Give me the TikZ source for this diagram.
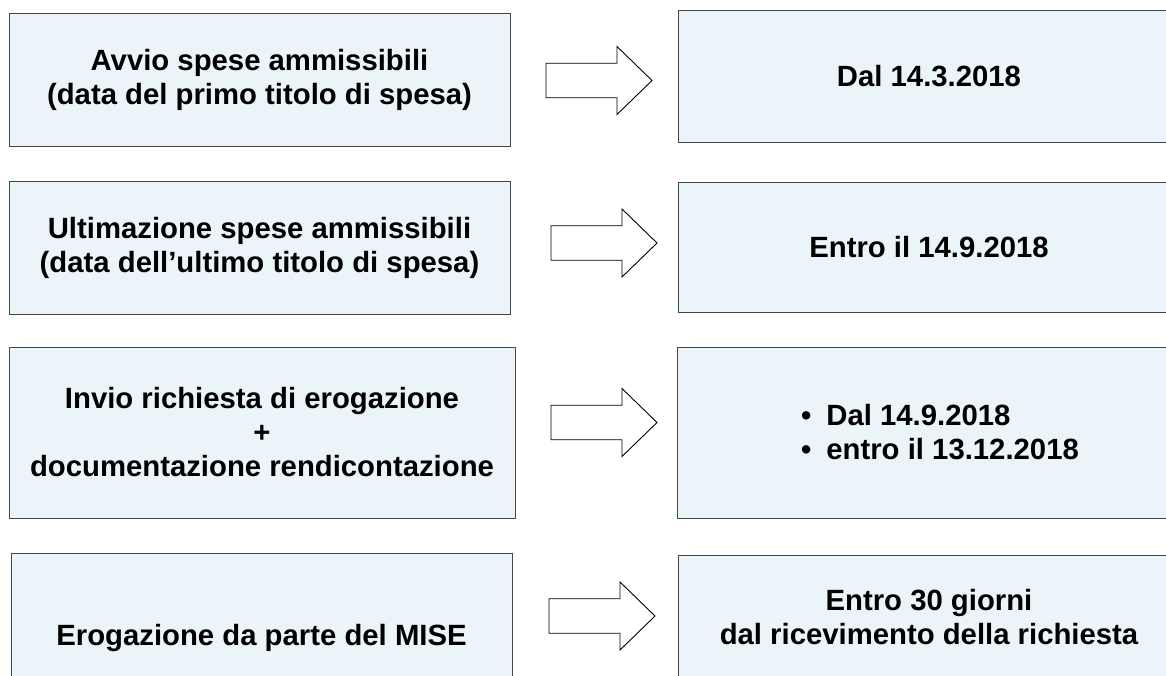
\documentclass[tikz,border=0pt]{standalone}
\usepackage{fontspec}
\setmainfont{Liberation Sans}
\definecolor{boxfill}{RGB}{235,245,249}
\definecolor{boxline}{RGB}{70,70,70}
\begin{document}
\begin{tikzpicture}[x=1pt,y=-1pt,
  box/.style={draw=boxline, fill=boxfill, line width=1pt, rectangle, inner sep=0pt,
    align=center, font=\bfseries\fontsize{29.3pt}{34pt}\selectfont},
  arrowline/.style={draw=black, line width=0.9pt, fill=white, line join=miter},
  barrow/.pic={\path[arrowline] (0,-17.25) -- (71,-17.25) -- (71,-34) -- (106,0)
      -- (71,34) -- (71,17.25) -- (0,17.25) -- cycle;}]
\path[use as bounding box, clip] (0,0) rectangle (1166,675);

% left column
\node[box, minimum width=501pt, minimum height=133pt] (l1) at (259.5,79.5)
  {Avvio spese ammissibili\\(data del primo titolo di spesa)};
\node[box, minimum width=501pt, minimum height=133pt] (l2) at (259.5,247.5)
  {Ultimazione spese ammissibili\\(data dell’ultimo titolo di spesa)};
\node[box, minimum width=506pt, minimum height=171pt] (l3) at (262,432.5)
  {Invio richiesta di erogazione\\+\\documentazione rendicontazione};
\node[box, minimum width=501pt, minimum height=169pt] (l4) at (261.5,637.6)
  {Erogazione da parte del MISE};

% right column
\node[box, minimum width=502pt, minimum height=132pt] (r1) at (929,76)
  {Dal 14.3.2018};
\node[box, minimum width=502pt, minimum height=130pt] (r2) at (929,247)
  {Entro il 14.9.2018};
\node[box, minimum width=503pt, minimum height=171pt, align=left] (r3) at (928.5,432.5)
  {\hspace*{23pt}•\hspace{15pt}Dal 14.9.2018\\\hspace*{23pt}•\hspace{15pt}entro il 13.12.2018};
\node[box, minimum width=502pt, minimum height=125pt] (r4) at (929,617.5)
  {Entro 30 giorni\\dal ricevimento della richiesta};

% block arrows
\pic (a1) at (546,80.5) {barrow};
\pic (a2) at (551,243) {barrow};
\pic (a3) at (551,422.5) {barrow};
\pic (a4) at (549,616) {barrow};
\end{tikzpicture}
\end{document}
